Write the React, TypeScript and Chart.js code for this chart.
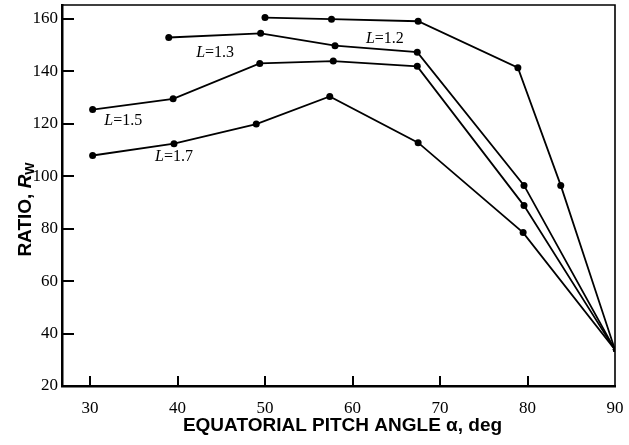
import React, { useEffect, useRef } from 'react';
import { Chart, registerables } from 'chart.js';

Chart.register(...registerables);

// ---- data ----
const xTickValues = [30, 40, 50, 60, 70, 80, 90];
const yTickValues = [20, 40, 60, 80, 100, 120, 140, 160];

const curveNames = ['L=1.2', 'L=1.3', 'L=1.5', 'L=1.7'];

const angleL12 = [50, 57.6, 67.5, 78.9, 83.8, 90];
const ratioL12 = [160.5, 159.9, 159.1, 141.4, 96.5, 33.8];

const angleL13 = [39, 49.5, 58, 67.4, 79.6, 90];
const ratioL13 = [152.9, 154.5, 149.8, 147.3, 96.5, 33.8];

const angleL15 = [30.3, 39.5, 49.4, 57.8, 67.4, 79.6, 90];
const ratioL15 = [125.4, 129.5, 143, 143.9, 141.9, 88.8, 33.8];

const angleL17 = [30.3, 39.6, 49, 57.4, 67.5, 79.5, 90];
const ratioL17 = [107.9, 112.4, 119.9, 130.4, 112.8, 78.5, 33.8];

// curve label anchors, in data units
const labelAngle = [63.7, 44.3, 33.8, 39.6];
const labelRatio = [152.3, 147.1, 121.2, 107.4];

const xTitle = 'EQUATORIAL PITCH ANGLE α, deg';
const yTitleMain = 'RATIO, ';
const yTitleSym = 'R';
const yTitleSub = 'W';

const SERIF = '"Liberation Serif", "Times New Roman", serif';
const SANS = '"Liberation Sans", Arial, sans-serif';

const decorPlugin = {
  id: 'decor',
  afterDatasetsDraw(chart: any) {
    const { ctx, chartArea: a, scales } = chart;
    const xs = scales.x;
    const ys = scales.y;
    ctx.save();
    ctx.strokeStyle = '#000';
    ctx.fillStyle = '#000';

    // frame top + right
    ctx.lineWidth = 1.6;
    ctx.beginPath();
    ctx.moveTo(a.left, a.top);
    ctx.lineTo(a.right, a.top);
    ctx.lineTo(a.right, a.bottom);
    ctx.stroke();

    // inward tick marks
    ctx.lineWidth = 2;
    yTickValues.forEach((v) => {
      if (v === ys.min) return;
      const py = Math.round(ys.getPixelForValue(v));
      ctx.beginPath();
      ctx.moveTo(a.left, py);
      ctx.lineTo(a.left + 12, py);
      ctx.stroke();
    });
    xTickValues.forEach((v) => {
      if (v === xs.max) return;
      const px = Math.round(xs.getPixelForValue(v));
      ctx.beginPath();
      ctx.moveTo(px, a.bottom);
      ctx.lineTo(px, a.bottom - 10);
      ctx.stroke();
    });

    // curve labels
    ctx.textBaseline = 'middle';
    ctx.textAlign = 'left';
    curveNames.forEach((t, i) => {
      const px = xs.getPixelForValue(labelAngle[i]);
      const py = ys.getPixelForValue(labelRatio[i]);
      const head = t.slice(0, 1);
      const tail = t.slice(1);
      ctx.font = `italic 16px ${SERIF}`;
      const w1 = ctx.measureText(head).width;
      ctx.font = `16px ${SERIF}`;
      const w2 = ctx.measureText(tail).width;
      const sx = px - (w1 + w2) / 2;
      ctx.font = `italic 16px ${SERIF}`;
      ctx.fillText(head, sx, py);
      ctx.font = `16px ${SERIF}`;
      ctx.fillText(tail, sx + w1, py);
    });

    // x title
    ctx.textBaseline = 'alphabetic';
    ctx.textAlign = 'center';
    ctx.font = `bold 19px ${SANS}`;
    ctx.fillText(xTitle, (a.left + a.right) / 2 + 4, 431);

    // y title (rotated)
    ctx.save();
    ctx.translate(31, (a.top + a.bottom) / 2 + 14);
    ctx.rotate(-Math.PI / 2);
    ctx.textAlign = 'left';
    ctx.font = `bold 19px ${SANS}`;
    const m1 = ctx.measureText(yTitleMain).width;
    ctx.font = `italic bold 19px ${SANS}`;
    const m2 = ctx.measureText(yTitleSym).width;
    ctx.font = `bold 13px ${SANS}`;
    const m3 = ctx.measureText(yTitleSub).width;
    let sx = -(m1 + m2 + m3) / 2;
    ctx.font = `bold 19px ${SANS}`;
    ctx.fillText(yTitleMain, sx, 0);
    sx += m1;
    ctx.font = `italic bold 19px ${SANS}`;
    ctx.fillText(yTitleSym, sx, 0);
    sx += m2;
    ctx.font = `bold 13px ${SANS}`;
    ctx.fillText(yTitleSub, sx, 3);
    ctx.restore();

    ctx.restore();
  },
};

function series(label: string, xs: number[], ys: number[]) {
  return {
    label,
    data: xs.map((x, i) => ({ x, y: ys[i] })),
    borderColor: '#000',
    backgroundColor: '#000',
    borderWidth: 1.8,
    pointRadius: (c: any) => (c.raw && c.raw.x === 90 ? 2.2 : 3.5),
    pointBorderWidth: 0,
    pointBackgroundColor: '#000',
    tension: 0,
    fill: false,
  };
}

export default function App() {
  const ref = useRef<HTMLCanvasElement | null>(null);

  useEffect(() => {
    if (!ref.current) return;
    const chart = new Chart(ref.current, {
      type: 'line',
      data: {
        datasets: [
          series(curveNames[0], angleL12, ratioL12),
          series(curveNames[1], angleL13, ratioL13),
          series(curveNames[2], angleL15, ratioL15),
          series(curveNames[3], angleL17, ratioL17),
        ],
      },
      options: {
        responsive: false,
        animation: false,
        events: [],
        layout: { padding: { top: 5, right: 14, left: 0, bottom: 0 } },
        plugins: {
          legend: { display: false },
          tooltip: { enabled: false },
          title: { display: false },
        },
        scales: {
          x: {
            type: 'linear',
            min: 26.8,
            max: 90,
            afterFit: (s: any) => {
              s.height = 59;
              s.paddingLeft = 0;
              s.paddingRight = 0;
              s.paddingTop = 0;
              s.paddingBottom = 0;
            },
            afterBuildTicks: (s: any) => {
              s.ticks = xTickValues.map((v) => ({ value: v }));
            },
            grid: { display: false, drawTicks: false },
            border: { display: true, color: '#000', width: 2.5 },
            ticks: {
              color: '#000',
              padding: 12,
              font: { family: SERIF, size: 17 },
              maxRotation: 0,
              autoSkip: false,
            },
          },
          y: {
            type: 'linear',
            min: 20,
            max: 165.3,
            afterFit: (s: any) => {
              s.width = 62;
              s.paddingLeft = 0;
              s.paddingRight = 0;
              s.paddingTop = 0;
              s.paddingBottom = 0;
            },
            afterBuildTicks: (s: any) => {
              s.ticks = yTickValues.map((v) => ({ value: v }));
            },
            grid: { display: false, drawTicks: false },
            border: { display: true, color: '#000', width: 2.5 },
            ticks: {
              color: '#000',
              padding: 4,
              font: { family: SERIF, size: 17 },
              autoSkip: false,
            },
          },
        },
      },
      plugins: [decorPlugin],
    });
    return () => chart.destroy();
  }, []);

  return (
    <div style={{ position: 'fixed', left: 0, top: 0, width: 629, height: 445, background: '#fff' }}>
      <canvas ref={ref} width={629} height={445} style={{ display: 'block' }} />
    </div>
  );
}
